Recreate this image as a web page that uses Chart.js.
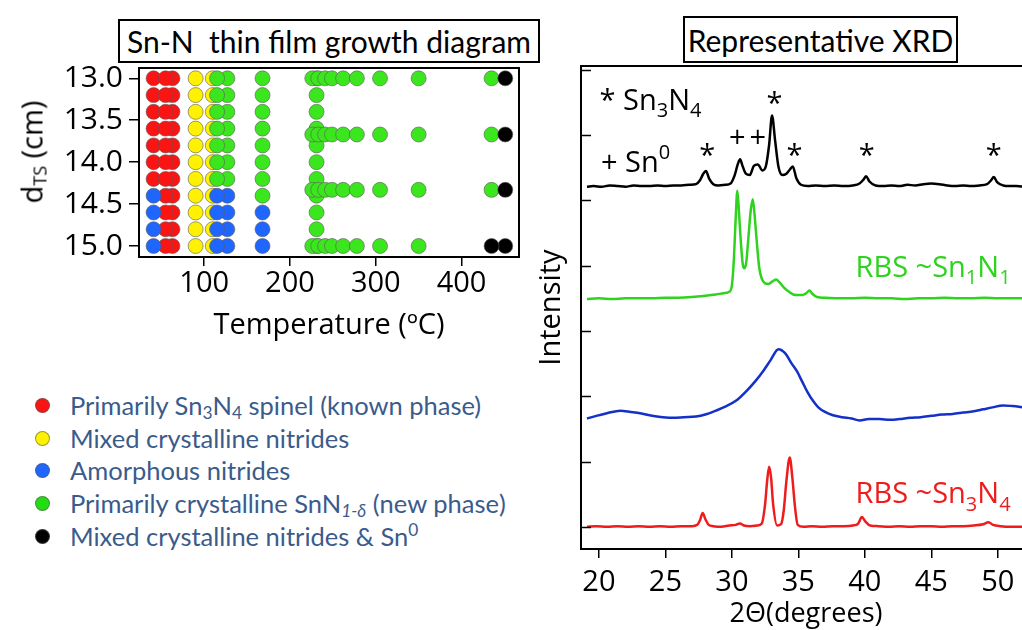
<!DOCTYPE html>
<html>
<head>
<meta charset="utf-8">
<script src="https://cdn.jsdelivr.net/npm/chart.js@4.4.1/dist/chart.umd.min.js"></script>
<style>
html, body { margin: 0; padding: 0; background: #fff; }
body { width: 1022px; height: 630px; position: relative; overflow: hidden; font-family: 'Open Sans', sans-serif; }
.title-box { position: absolute; box-sizing: border-box; border: 2px solid #000; font-family: Lato, sans-serif; font-size: 30px; display: flex; align-items: center; justify-content: center; white-space: pre; color: #000; }
#growthWrap { position: absolute; left: 0; top: 0; width: 540px; height: 350px; }
#xrdWrap { position: absolute; left: 520px; top: 0; width: 520px; height: 630px; }
.dts { position: absolute; left: 31px; top: 152px; transform: translate(-50%, -50%) rotate(-90deg); font-size: 29px; white-space: nowrap; color: #000; }
.dts sub { font-size: 0.62em; vertical-align: -0.2em; line-height: 0; }
.legend { position: absolute; left: 0; top: 389px; font-family: Lato, sans-serif; font-size: 25.5px; color: #3a5b8c; }
.legend div { position: relative; height: 32.7px; line-height: 32.7px; padding-left: 70px; white-space: nowrap; }
.legend .dot { position: absolute; left: 35px; top: 9px; width: 13px; height: 13px; border-radius: 50%; border: 1px solid rgba(90,90,90,0.6); }
.legend sub, .legend sup { font-size: 0.68em; line-height: 0; }
.legend sub { vertical-align: -0.25em; }
.legend sup { vertical-align: 0.6em; }
</style>
</head>
<body>
<div class="title-box" style="left:118px; top:19px; width:422px; height:44px;">Sn-N  thin film growth diagram</div>
<div class="title-box" style="left:683px; top:16px; width:275px; height:47px;">Representative XRD</div>

<div id="growthWrap"><canvas id="growthChart" width="540" height="350"></canvas></div>
<div class="dts">d<sub>TS</sub> (cm)</div>
<div id="xrdWrap"><canvas id="xrdChart" width="520" height="630"></canvas></div>

<div class="legend">
  <div><span class="dot" style="background:#fa1414"></span>Primarily Sn<sub>3</sub>N<sub>4</sub> spinel (known phase)</div>
  <div><span class="dot" style="background:#fff200"></span>Mixed crystalline nitrides</div>
  <div><span class="dot" style="background:#1f66ff"></span>Amorphous nitrides</div>
  <div><span class="dot" style="background:#22dd11"></span>Primarily crystalline SnN<sub><i>1-δ</i></sub> (new phase)</div>
  <div><span class="dot" style="background:#000"></span>Mixed crystalline nitrides &amp; Sn<sup>0</sup></div>
</div>

<script>
// ---------- GROWTH DIAGRAM DATA ----------
// target-substrate distances (cm) used for each temperature column
const dAll = [13.0, 13.2, 13.4, 13.6, 13.8, 14.0, 14.2, 14.4, 14.6, 14.8, 15.0];
const dUpper = [13.0, 13.2, 13.4, 13.6, 13.8, 14.0, 14.2];
const dUpper8 = [13.0, 13.2, 13.4, 13.6, 13.8, 14.0, 14.2, 14.4];
const dLower = [14.4, 14.6, 14.8, 15.0];
const dLower3 = [14.6, 14.8, 15.0];

// columns: [temperature (C), distances]
const spinelCols = [[41, dUpper], [63, dAll], [55, dAll]];
const mixedCols = [[110, dAll], [90, dAll]];
const amorphCols = [[41, dLower], [127, dLower], [115, dLower], [168, dLower3]];
const snnCols = [[127, dUpper], [115, dUpper], [168, dUpper8], [231, dAll]];
// rows: [distance, temperatures]
const snnRows = [
    [13.0,  [226, 233, 241, 249, 262, 278, 305, 350, 435]],
    [13.67, [226, 233, 241, 249, 262, 278, 305, 350, 435]],
    [14.33, [226, 233, 241, 249, 262, 278, 305, 350, 435]],
    [15.0,  [226, 233, 241, 249, 262, 278, 305, 350]]
];
const snMetalCols = [[451, [13.0, 13.67, 14.33, 15.0]], [435, [15.0]]];

const tempTicks = [100, 200, 300, 400];
const distTicks = [13.0, 13.5, 14.0, 14.5, 15.0];

// ---------- XRD DATA ----------
const blackTT = [19.1, 19.6, 20.2, 20.8, 21.4, 22.0, 22.6, 23.2, 23.8, 24.4, 25.0, 25.6, 26.2, 26.8, 27.3, 27.6, 27.85, 28.05, 28.3, 28.6, 29.0, 29.5, 29.9, 30.2, 30.45, 30.62, 30.8, 31.05, 31.35, 31.65, 31.95, 32.3, 32.55, 32.8, 33.02, 33.25, 33.5, 33.8, 34.1, 34.35, 34.58, 34.85, 35.2, 35.7, 36.3, 37.0, 37.7, 38.4, 39.1, 39.6, 39.9, 40.1, 40.35, 40.8, 41.4, 42.0, 42.6, 43.2, 43.8, 44.4, 45.0, 45.6, 46.2, 46.8, 47.4, 48.0, 48.6, 49.2, 49.5, 49.7, 49.95, 50.4, 50.9, 51.4, 52.0];
const blackI = [5.21, 5.22, 5.21, 5.23, 5.22, 5.21, 5.23, 5.22, 5.22, 5.23, 5.22, 5.23, 5.23, 5.24, 5.25, 5.31, 5.41, 5.45, 5.33, 5.25, 5.23, 5.24, 5.26, 5.38, 5.56, 5.63, 5.53, 5.41, 5.39, 5.53, 5.55, 5.46, 5.52, 5.85, 6.30, 5.92, 5.52, 5.39, 5.41, 5.47, 5.52, 5.34, 5.24, 5.22, 5.23, 5.22, 5.23, 5.22, 5.23, 5.26, 5.32, 5.37, 5.29, 5.23, 5.22, 5.23, 5.22, 5.24, 5.23, 5.25, 5.26, 5.25, 5.23, 5.22, 5.23, 5.22, 5.23, 5.25, 5.31, 5.36, 5.28, 5.23, 5.22, 5.22, 5.21];

const greenTT = [19.1, 20.0, 21.0, 22.0, 23.0, 24.0, 25.0, 26.0, 27.0, 28.0, 28.8, 29.4, 29.8, 30.0, 30.15, 30.28, 30.41, 30.54, 30.68, 30.82, 30.93, 31.08, 31.25, 31.42, 31.57, 31.72, 31.88, 32.05, 32.25, 32.5, 32.75, 33.05, 33.35, 33.6, 33.9, 34.3, 34.8, 35.3, 35.6, 35.83, 36.05, 36.4, 37.0, 38.0, 39.0, 40.0, 41.0, 42.0, 43.0, 44.0, 45.0, 46.0, 47.0, 48.0, 49.0, 50.0, 51.0, 52.0];
const greenI = [3.49, 3.50, 3.49, 3.50, 3.50, 3.50, 3.51, 3.51, 3.52, 3.54, 3.56, 3.58, 3.60, 3.70, 4.10, 4.70, 5.15, 4.80, 4.35, 4.02, 3.96, 4.05, 4.45, 4.85, 5.02, 4.75, 4.35, 3.98, 3.80, 3.73, 3.72, 3.76, 3.79, 3.74, 3.67, 3.60, 3.55, 3.55, 3.58, 3.62, 3.57, 3.52, 3.51, 3.50, 3.50, 3.51, 3.50, 3.50, 3.49, 3.50, 3.50, 3.51, 3.50, 3.50, 3.51, 3.50, 3.50, 3.50];

const blueTT = [19.1, 19.8, 20.6, 21.6, 22.4, 23.1, 24.0, 24.8, 25.6, 26.4, 27.3, 28.0, 28.8, 29.5, 30.3, 31.0, 31.8, 32.4, 32.9, 33.5, 34.0, 34.5, 34.9, 35.3, 35.7, 36.1, 36.5, 37.0, 37.6, 38.3, 39.0, 39.6, 40.3, 41.1, 41.9, 42.6, 43.4, 44.2, 45.0, 45.8, 46.6, 47.4, 48.2, 48.9, 49.6, 50.4, 51.1, 52.0];
const blueI = [1.66, 1.70, 1.74, 1.78, 1.76, 1.74, 1.70, 1.68, 1.67, 1.68, 1.69, 1.72, 1.78, 1.84, 1.93, 2.06, 2.24, 2.40, 2.55, 2.72, 2.66, 2.50, 2.38, 2.22, 2.06, 1.93, 1.83, 1.76, 1.71, 1.68, 1.66, 1.63, 1.65, 1.65, 1.64, 1.65, 1.67, 1.68, 1.70, 1.72, 1.73, 1.75, 1.77, 1.80, 1.83, 1.86, 1.85, 1.83];

const redTT = [19.1, 19.8, 20.6, 21.4, 22.2, 23.0, 23.8, 24.6, 25.4, 26.2, 27.0, 27.4, 27.6, 27.8, 28.0, 28.25, 28.6, 29.2, 29.8, 30.3, 30.6, 30.9, 31.4, 31.9, 32.25, 32.5, 32.65, 32.8, 32.95, 33.1, 33.4, 33.7, 33.9, 34.1, 34.35, 34.55, 34.75, 34.95, 35.4, 36.0, 36.8, 37.6, 38.4, 39.1, 39.5, 39.78, 40.05, 40.4, 41.0, 41.8, 42.6, 43.4, 44.2, 45.0, 45.8, 46.6, 47.4, 48.2, 48.9, 49.3, 49.65, 50.2, 51.0, 52.0];
const redI = [0.00, 0.01, 0.00, 0.01, 0.00, 0.01, 0.00, 0.01, 0.00, 0.01, 0.01, 0.03, 0.10, 0.21, 0.12, 0.03, 0.01, 0.00, 0.02, 0.03, 0.05, 0.02, 0.01, 0.02, 0.05, 0.35, 0.70, 0.92, 0.75, 0.35, 0.02, 0.04, 0.25, 0.70, 1.06, 0.75, 0.30, 0.03, 0.00, 0.01, 0.00, 0.01, 0.01, 0.02, 0.05, 0.15, 0.08, 0.02, 0.01, 0.00, 0.01, 0.00, 0.01, 0.01, 0.00, 0.01, 0.01, 0.02, 0.04, 0.07, 0.03, 0.01, 0.00, 0.00];

const xrdTicks = [20, 25, 30, 35, 40, 45, 50];
const intensityTicks = [0, 1, 2, 3, 4, 5, 6, 7];

// peak markers on the top pattern: * = Sn3N4, + = Sn metal
const starAt = [28.15, 33.2, 34.7, 40.15, 49.7];
const starLevel = [5.55, 6.34, 5.55, 5.55, 5.55];
const plusAt = [30.4, 31.95];
const plusLevel = [5.82, 5.82];

// ---------- HELPERS ----------
function colsToPoints(cols) {
    const pts = [];
    cols.forEach(([t, ds]) => ds.forEach(d => pts.push({ x: t, y: d })));
    return pts;
}
function rowsToPoints(rows) {
    const pts = [];
    rows.forEach(([d, ts]) => ts.forEach(t => pts.push({ x: t, y: d })));
    return pts;
}
function zipXY(xs, ys) {
    return xs.map((x, i) => ({ x: x, y: ys[i] }));
}

const FONT = "'Open Sans', sans-serif";

// text with sub/superscript runs, drawn at a pixel anchor
function drawRich(ctx, parts, x, y, size, align) {
    const fontFor = k => (k === 'n' ? size : Math.round(size * 0.68)) + 'px ' + FONT;
    const widths = parts.map(([t, k]) => { ctx.font = fontFor(k); return ctx.measureText(t).width; });
    const total = widths.reduce((a, b) => a + b, 0);
    let cx = align === 'center' ? x - total / 2 : x;
    ctx.textAlign = 'left';
    ctx.textBaseline = 'alphabetic';
    parts.forEach(([t, k], i) => {
        ctx.font = fontFor(k);
        const dy = k === 'sub' ? size * 0.26 : (k === 'sup' ? -size * 0.45 : 0);
        ctx.fillText(t, cx, y + dy);
        cx += widths[i];
    });
}

const growthFrame = {
    id: 'growthFrame',
    afterDraw(chart) {
        const { ctx, chartArea: a } = chart;
        ctx.save();
        ctx.strokeStyle = '#000';
        ctx.lineWidth = 2;
        ctx.strokeRect(a.left, a.top, a.right - a.left, a.bottom - a.top);
        ctx.restore();
    }
};

const xrdDecor = {
    id: 'xrdDecor',
    afterDraw(chart) {
        const { ctx, chartArea: a, scales: { x, y } } = chart;
        ctx.save();
        ctx.strokeStyle = '#000';
        ctx.lineWidth = 2;
        ctx.beginPath();
        ctx.moveTo(chart.width, a.top); ctx.lineTo(a.left, a.top);
        ctx.lineTo(a.left, a.bottom); ctx.lineTo(chart.width, a.bottom);
        ctx.stroke();
        // inward ticks on the intensity axis
        ctx.lineWidth = 1.5;
        intensityTicks.forEach(v => {
            const py = Math.round(y.getPixelForValue(v)) + 0.5;
            ctx.beginPath();
            ctx.moveTo(a.left, py); ctx.lineTo(a.left + 10, py);
            ctx.stroke();
        });

        ctx.fillStyle = '#000';
        starAt.forEach((t, i) => drawRich(ctx, [['*', 'n']], x.getPixelForValue(t), y.getPixelForValue(starLevel[i]), 29, 'center'));
        plusAt.forEach((t, i) => drawRich(ctx, [['+', 'n']], x.getPixelForValue(t), y.getPixelForValue(plusLevel[i]), 29, 'center'));
        drawRich(ctx, [['* ', 'n'], ['Sn', 'n'], ['3', 'sub'], ['N', 'n'], ['4', 'sub']], x.getPixelForValue(20.05), y.getPixelForValue(6.39), 29, 'left');
        drawRich(ctx, [['+ ', 'n'], ['Sn', 'n'], ['0', 'sup']], x.getPixelForValue(20.15), y.getPixelForValue(5.44), 29, 'left');

        ctx.fillStyle = '#2fd31f';
        drawRich(ctx, [['RBS ~Sn', 'n'], ['1', 'sub'], ['N', 'n'], ['1', 'sub']], x.getPixelForValue(39.3), y.getPixelForValue(3.83), 29, 'left');
        ctx.fillStyle = '#ee1c1c';
        drawRich(ctx, [['RBS ~Sn', 'n'], ['3', 'sub'], ['N', 'n'], ['4', 'sub']], x.getPixelForValue(39.3), y.getPixelForValue(0.36), 29, 'left');
        ctx.restore();
    }
};

// ---------- BUILD CHARTS ----------
function buildGrowthChart() {
    const pt = (color) => ({ backgroundColor: color, borderColor: 'rgba(90,90,90,0.6)', borderWidth: 1, pointRadius: 7.5 });
    new Chart(document.getElementById('growthChart'), {
        type: 'scatter',
        data: {
            datasets: [
                { label: 'Mixed crystalline nitrides & Sn0', data: colsToPoints(snMetalCols), ...pt('#000000') },
                { label: 'Primarily crystalline SnN1-d', data: colsToPoints(snnCols).concat(rowsToPoints(snnRows)), ...pt('#3ce61e') },
                { label: 'Amorphous nitrides', data: colsToPoints(amorphCols), ...pt('#1f66ff') },
                { label: 'Mixed crystalline nitrides', data: colsToPoints(mixedCols), ...pt('#fff200') },
                { label: 'Primarily Sn3N4 spinel', data: colsToPoints(spinelCols), ...pt('#fa1414') }
            ]
        },
        options: {
            responsive: false,
            animation: false,
            layout: { padding: { left: 0, top: 68, right: 21, bottom: 0 } },
            plugins: { legend: { display: false }, tooltip: { enabled: false } },
            scales: {
                x: {
                    type: 'linear', min: 24, max: 467,
                    afterBuildTicks: s => { s.ticks = tempTicks.map(v => ({ value: v })); },
                    afterFit: s => { s.height = 93; },
                    grid: { drawOnChartArea: false, drawTicks: true, tickLength: 9, color: '#000', lineWidth: 1.5 },
                    border: { display: false },
                    ticks: { color: '#000', font: { family: FONT, size: 29 }, padding: 0, maxRotation: 0, autoSkip: false },
                    title: { display: true, text: 'Temperature (ºC)', color: '#000', font: { family: FONT, size: 29 }, padding: { top: 0, bottom: 7 } }
                },
                y: {
                    type: 'linear', reverse: true, min: 12.877, max: 15.131,
                    afterBuildTicks: s => { s.ticks = distTicks.map(v => ({ value: v })); },
                    afterFit: s => { s.width = 139; },
                    grid: { drawOnChartArea: false, drawTicks: true, tickLength: 10, color: '#000', lineWidth: 1.5 },
                    border: { display: false },
                    ticks: { color: '#000', font: { family: FONT, size: 30 }, padding: 6, autoSkip: false, callback: v => v.toFixed(1) }
                }
            }
        },
        plugins: [growthFrame]
    });
}

function buildXrdChart() {
    const line = (color) => ({ borderColor: color, borderWidth: 2.5, pointRadius: 0, showLine: true, fill: false, cubicInterpolationMode: 'monotone' });
    new Chart(document.getElementById('xrdChart'), {
        type: 'scatter',
        data: {
            datasets: [
                { label: 'Sn3N4 + Sn', data: zipXY(blackTT, blackI), ...line('#000000') },
                { label: 'RBS ~Sn1N1', data: zipXY(greenTT, greenI), ...line('#2fd31f') },
                { label: 'amorphous', data: zipXY(blueTT, blueI), ...line('#1430c8') },
                { label: 'RBS ~Sn3N4', data: zipXY(redTT, redI), ...line('#ee1c1c') }
            ]
        },
        options: {
            responsive: false,
            animation: false,
            layout: { padding: { left: 0, top: 66, right: 9, bottom: 0 } },
            plugins: { legend: { display: false }, tooltip: { enabled: false } },
            scales: {
                x: {
                    type: 'linear', min: 18.65, max: 52.5,
                    afterBuildTicks: s => { s.ticks = xrdTicks.map(v => ({ value: v })); },
                    afterFit: s => { s.height = 81; },
                    grid: { drawOnChartArea: false, drawTicks: true, tickLength: 9, color: '#000', lineWidth: 1.5 },
                    border: { display: false },
                    ticks: { color: '#000', font: { family: FONT, size: 29 }, padding: 7, maxRotation: 0, autoSkip: false },
                    title: { display: true, text: '2Θ(degrees)', color: '#000', font: { family: FONT, size: 27 }, padding: { top: 0, bottom: -1 } }
                },
                y: {
                    type: 'linear', min: -0.34, max: 7.06,
                    afterBuildTicks: s => { s.ticks = intensityTicks.map(v => ({ value: v })); },
                    afterFit: s => { s.width = 61; },
                    grid: { display: false },
                    border: { display: false },
                    ticks: { display: false },
                    title: { display: true, text: 'Intensity', color: '#000', font: { family: FONT, size: 29 }, padding: { top: 14, bottom: 0 } }
                }
            }
        },
        plugins: [xrdDecor]
    });
}

Promise.all([
    document.fonts.load("29px 'Open Sans'"),
    document.fonts.load("25px Lato")
]).catch(() => {}).then(() => {
    buildGrowthChart();
    buildXrdChart();
});
</script>
</body>
</html>
